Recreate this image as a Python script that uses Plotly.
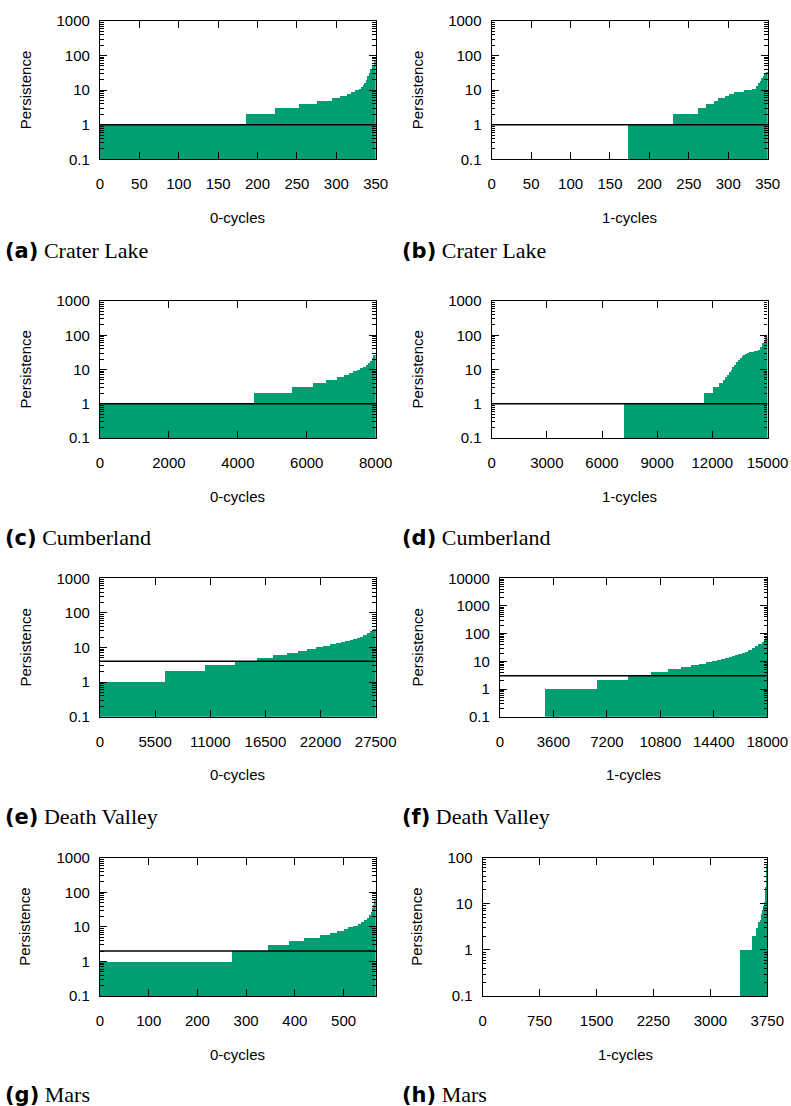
import plotly.graph_objects as go

W, H = 791, 1106
GREEN = "#009E73"

# ---------------- data (run-length encoded sorted persistence) ----------------
# (a) Crater Lake, 0-cycles
a_edges = [0, 185, 222, 252, 275, 295, 305, 313, 319, 324, 329, 332, 334, 336, 338, 340, 342, 344, 346, 348, 350]
a_vals = [1, 2, 3, 4, 5, 6, 7, 8, 9, 10, 11, 12, 14, 16, 20, 25, 31, 40, 50, 68]
# (b) Crater Lake, 1-cycles
b_edges = [173, 230, 261, 272, 281, 287, 295, 300, 307, 320, 330, 336, 338, 340, 342, 344, 346, 348, 350]
b_vals = [1, 2, 3, 4, 5, 6, 7, 8, 9, 10, 11, 13, 16, 19, 22, 25, 29, 34]
# (c) Cumberland, 0-cycles
c_edges = [0, 4470, 5570, 6170, 6560, 6890, 7080, 7235, 7350, 7450, 7545, 7640, 7720, 7785, 7845, 7900, 7950, 8000]
c_vals = [1, 2, 3, 4, 5, 6, 7, 8, 9, 10, 11, 12, 14, 16, 18, 22, 27]
# (d) Cumberland, 1-cycles
d_edges = [7200, 11520, 12030, 12370, 12570, 12700, 12800, 12900, 13000, 13100, 13200, 13300, 13400, 13500,
           13600, 13700, 13800, 13900, 14000, 14100, 14200, 14300, 14400, 14500, 14600, 14700, 14800, 14900, 15000]
d_vals = [1, 2, 3, 4, 5, 6, 7, 8.5, 10, 12, 14, 16.5, 19, 21.5, 24, 27, 29, 31, 32, 33, 33.5, 34, 35, 38, 45, 58, 70, 88]
# (e) Death Valley, 0-cycles
e_edges = [0, 6485, 10475, 13500, 15700, 17290, 18620, 19720, 20685, 21550, 22280, 22945, 23510, 24010, 24475,
           24940, 25270, 25605, 25937, 26270, 26600, 26935, 27270, 27500]
e_vals = [1, 2, 3, 4, 5, 6, 7, 8, 9, 10, 11, 12, 13, 14, 15, 16, 17, 18, 20, 22, 25, 29, 34]
# (f) Death Valley, 1-cycles
f_edges = [3030, 6550, 8640, 10145, 11335, 12185, 12860, 13420, 13870, 14250, 14590, 14880, 15150, 15395, 15620,
           15820, 16025, 16270, 16495, 16720, 16945, 17170, 17390, 17615, 17795, 17910, 18000]
f_vals = [1, 2, 3, 4, 5, 6, 7, 8, 9, 10, 11, 12, 13, 14, 15, 16, 18, 20, 22, 25, 29, 34, 40, 50, 60, 75]
# (g) Mars, 0-cycles
g_edges = [0, 270, 345, 388, 419, 451, 473, 486, 500, 510, 520, 529, 536, 542, 548, 553, 557, 560, 562, 564, 566]
g_vals = [1, 2, 3, 4, 5, 6, 7, 8, 9, 10, 11, 12, 14, 16, 19, 23, 28, 35, 45, 60]
# (h) Mars, 1-cycles
h_edges = [3390, 3545, 3600, 3632, 3654, 3665, 3676, 3687, 3698, 3709, 3720, 3727, 3733, 3738, 3742, 3746, 3750]
h_vals = [1, 2, 3, 4, 4.6, 5.3, 6.2, 7.3, 9, 11, 15, 23, 33, 54, 75, 100]

# thresholds (horizontal black line)
thresholds = [1, 1, 1, 1, 4, 3, 2, None]

# x extents and tick labels
x_max = [350, 350, 8000, 15000, 27500, 18000, 566, 3750]
a_xticks = [0, 50, 100, 150, 200, 250, 300, 350]
c_xticks = [0, 2000, 4000, 6000, 8000]
d_xticks = [0, 3000, 6000, 9000, 12000, 15000]
e_xticks = [0, 5500, 11000, 16500, 22000, 27500]
f_xticks = [0, 3600, 7200, 10800, 14400, 18000]
g_xticks = [0, 100, 200, 300, 400, 500]
h_xticks = [0, 750, 1500, 2250, 3000, 3750]
x_ticks = [a_xticks, a_xticks, c_xticks, d_xticks, e_xticks, f_xticks, g_xticks, h_xticks]

y_ticks_3 = [0.1, 1, 10, 100, 1000]
y_ticks_4 = [0.1, 1, 10, 100, 1000, 10000]
y_ticks_2 = [0.1, 1, 10, 100]
y_ticklabels_3 = ["0.1", "1", "10", "100", "1000"]
y_ticklabels_4 = ["0.1", "1", "10", "100", "1000", "10000"]
y_ticklabels_2 = ["0.1", "1", "10", "100"]
y_ticks = [y_ticks_3, y_ticks_3, y_ticks_3, y_ticks_3, y_ticks_3, y_ticks_4, y_ticks_3, y_ticks_2]
y_ticklabels = [y_ticklabels_3, y_ticklabels_3, y_ticklabels_3, y_ticklabels_3, y_ticklabels_3,
                y_ticklabels_4, y_ticklabels_3, y_ticklabels_2]

x_labels = ["0-cycles", "1-cycles"] * 4
cap_letters = ["(a)", "(b)", "(c)", "(d)", "(e)", "(f)", "(g)", "(h)"]
cap_names = ["Crater Lake", "Crater Lake", "Cumberland", "Cumberland",
             "Death Valley", "Death Valley", "Mars", "Mars"]

edges_all = [a_edges, b_edges, c_edges, d_edges, e_edges, f_edges, g_edges, h_edges]
vals_all = [a_vals, b_vals, c_vals, d_vals, e_vals, f_vals, g_vals, h_vals]

# ---------------- layout geometry (pixels) ----------------
boxes = [
    (100, 21, 375.7, 159.3), (491.7, 21, 767.7, 159.3),
    (100, 301, 375.7, 438), (491.7, 301, 767.5, 438),
    (100, 578.3, 375.7, 716.7), (500, 578.3, 767.3, 716.7),
    (100, 857.7, 375.7, 996), (482.7, 857.7, 767.3, 996),
]
cap_y = [250, 250, 537, 537, 816, 816, 1094, 1094]
cap_x = [3, 400, 3, 400, 3, 400, 3, 400]
ylab_x = [25, 417, 25, 417, 25, 417, 25, 417]

TICKFONT = dict(family="Liberation Sans, Arial, sans-serif", size=15, color="black")

fig = go.Figure()
layout = dict(width=W, height=H, margin=dict(l=0, r=0, t=0, b=0, pad=0, autoexpand=False),
              paper_bgcolor="white", plot_bgcolor="white", showlegend=False,
              bargap=0, barmode="overlay")
annotations = []

for i in range(8):
    n = i + 1
    sfx = "" if n == 1 else str(n)
    edges, vals = edges_all[i], vals_all[i]
    xs = [(edges[k] + edges[k + 1]) / 2 for k in range(len(vals))]
    ws = [edges[k + 1] - edges[k] for k in range(len(vals))]
    fig.add_trace(go.Bar(x=xs, y=vals, width=ws, marker=dict(color=GREEN, line=dict(width=0)),
                         xaxis="x" + sfx, yaxis="y" + sfx, hoverinfo="skip"))
    if thresholds[i] is not None:
        fig.add_trace(go.Scatter(x=[0, x_max[i]], y=[thresholds[i], thresholds[i]], mode="lines",
                                 line=dict(color="black", width=1.5),
                                 xaxis="x" + sfx, yaxis="y" + sfx, hoverinfo="skip"))
    x0, y0, x1, y1 = boxes[i]
    yexp = len(y_ticks[i]) - 2
    minor_vals = [k * 10 ** e for e in range(-1, yexp) for k in range(2, 10)]
    layout["xaxis" + sfx] = dict(
        domain=[x0 / W, x1 / W], anchor="y" + sfx, range=[0, x_max[i]],
        tickvals=x_ticks[i], ticktext=[str(v) for v in x_ticks[i]],
        ticks="inside", ticklen=7, tickwidth=1, tickcolor="black",
        showline=True, linecolor="black", linewidth=1.3, mirror="ticks",
        showgrid=False, zeroline=False, tickfont=TICKFONT, ticklabelstandoff=11,
        automargin=False, fixedrange=True)
    layout["yaxis" + sfx] = dict(
        domain=[1 - y1 / H, 1 - y0 / H], anchor="x" + sfx, type="log", range=[-1, yexp],
        tickvals=y_ticks[i], ticktext=y_ticklabels[i],
        ticks="inside", ticklen=7, tickwidth=1, tickcolor="black",
        minor=dict(tickvals=minor_vals, ticks="inside", ticklen=3.5, tickcolor="black", tickwidth=1,
                   showgrid=False),
        showline=True, linecolor="black", linewidth=1.3, mirror="ticks",
        showgrid=False, zeroline=False, tickfont=TICKFONT, ticklabelstandoff=6,
        automargin=False, fixedrange=True)
    # y label
    annotations.append(dict(text="Persistence", x=ylab_x[i] / W, y=1 - (y0 + y1) / 2 / H,
                            xref="paper", yref="paper", showarrow=False, textangle=-90,
                            xanchor="center", yanchor="middle", font=TICKFONT))
    # x label
    annotations.append(dict(text=x_labels[i], x=(x0 + x1) / 2 / W, y=1 - (y1 + 58) / H,
                            xref="paper", yref="paper", showarrow=False,
                            xanchor="center", yanchor="middle", font=TICKFONT))
    # caption
    annotations.append(dict(
        text="<span style='font-family:DejaVu Sans;font-weight:bold;font-size:21px'>" + cap_letters[i]
             + "</span> " + cap_names[i],
        x=cap_x[i] / W, y=1 - cap_y[i] / H, xref="paper", yref="paper", showarrow=False,
        xanchor="left", yanchor="middle",
        font=dict(family="Liberation Serif, DejaVu Serif, serif", size=22, color="black")))

layout["annotations"] = annotations
fig.update_layout(**layout)
fig.write_html("out.html", config={"displayModeBar": False},
               post_script="document.body.style.margin='0';document.body.style.overflow='hidden';")
